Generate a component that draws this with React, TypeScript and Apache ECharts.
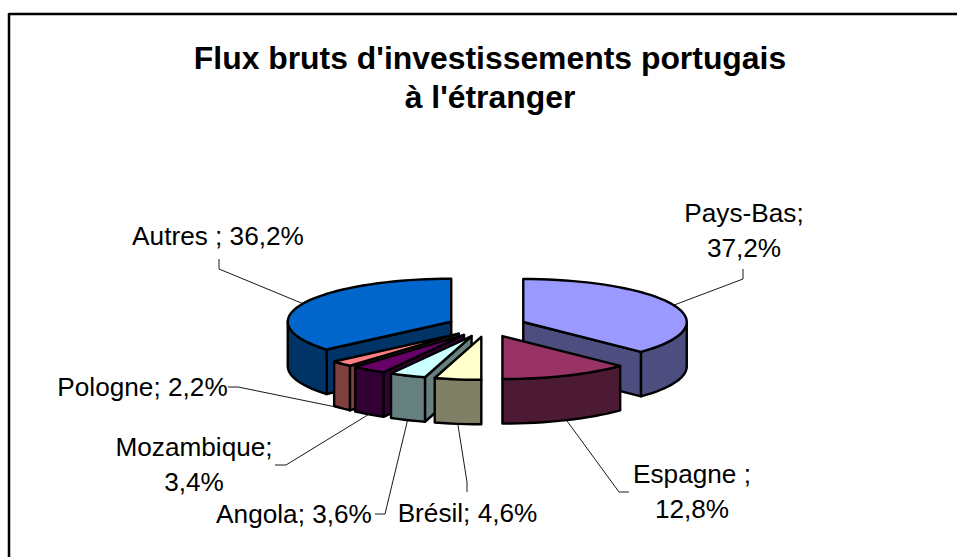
import React, { useEffect, useRef } from "react";
import * as echarts from "echarts";

const titleLines = ["Flux bruts d'investissements portugais", "à l'étranger"];
const categories = ["Pays-Bas", "Espagne", "Brésil", "Angola", "Mozambique", "Pologne", "Autres"];
const shares = [37.2, 12.8, 4.6, 3.6, 3.4, 2.2, 36.2];
const labelTexts = [
  ["Pays-Bas;", "37,2%"],
  ["Espagne ;", "12,8%"],
  ["Brésil; 4,6%"],
  ["Angola; 3,6%"],
  ["Mozambique;", "3,4%"],
  ["Pologne; 2,2%"],
  ["Autres ; 36,2%"],
];
const topColors = ["#9999FF", "#993366", "#FFFFCC", "#CCFFFF", "#660066", "#FF8080", "#0066CC"];
const sideColors = ["#4D4D80", "#4D1A33", "#808066", "#668080", "#330033", "#804040", "#003366"];

// Layout of the 3D pie
const CX = 487, CY = 326.2, RX = 163.5, RY = 43, DEPTH = 44.5;
const EXPLODE_X = 39.4, EXPLODE_Y = 10.7;
const drawOrder = [6, 0, 5, 4, 3, 2, 1];
const FONT = '"Liberation Sans", Arial, sans-serif';

// Label centre + first-line y, and leader route (end, elbow); anchor comes from the slice
const labelPos = [
  [744, 213], [692, 474], [467.5, 513], [294, 514], [194, 447], [142.5, 387], [218, 236],
];
const lineHeight = 35;
const leaderRoute = [
  [[743, 269], [743, 279]],
  [[629, 492], [619, 492]],
  [[467, 492], [467, 482]],
  [[375, 514], [385, 514]],
  [[275, 465], [286, 465]],
  [[228, 387], [238, 387]],
  [[219, 259], [219, 269]],
];
const anchorOnBottom = [false, true, true, true, true, true, false];

const total = shares.reduce((a, b) => a + b, 0);
const startAngles: number[] = [];
shares.reduce((acc, v, i) => {
  startAngles[i] = (acc / total) * 360;
  return acc + v;
}, 0);

const rad = (d: number) => (d * Math.PI) / 180;

function renderItem(params: any) {
  const i = drawOrder[params.dataIndex];
  const a0 = startAngles[i];
  const a1 = a0 + (shares[i] / total) * 360;
  const mid = (a0 + a1) / 2;
  const cx = CX + EXPLODE_X * Math.sin(rad(mid));
  const cy = CY - EXPLODE_Y * Math.cos(rad(mid));
  const pt = (a: number, dz = 0) => [cx + RX * Math.sin(rad(a)), cy - RY * Math.cos(rad(a)) + dz];
  const arc = (from: number, to: number, dz = 0) => {
    const n = Math.max(2, Math.ceil((to - from) / 3));
    const out: number[][] = [];
    for (let k = 0; k <= n; k++) out.push(pt(from + ((to - from) * k) / n, dz));
    return out;
  };
  const edge = { stroke: "#000", lineWidth: 2.4, lineJoin: "round" };
  const children: any[] = [];

  // leader line
  const anchor = pt(mid, anchorOnBottom[i] ? DEPTH : 0);
  children.push({
    type: "polyline",
    shape: { points: [leaderRoute[i][0], leaderRoute[i][1], anchor] },
    style: { stroke: "#1a1a1a", lineWidth: 1, fill: "none" },
  });

  // walls
  const side = { ...edge, fill: sideColors[i] };
  if (a0 > 180) {
    children.push({
      type: "polygon",
      shape: { points: [[cx, cy], pt(a0), pt(a0, DEPTH), [cx, cy + DEPTH]] },
      style: side,
    });
  }
  if (a1 < 180) {
    children.push({
      type: "polygon",
      shape: { points: [[cx, cy], pt(a1), pt(a1, DEPTH), [cx, cy + DEPTH]] },
      style: side,
    });
  }
  const f0 = Math.max(a0, 90);
  const f1 = Math.min(a1, 270);
  if (f1 > f0) {
    children.push({
      type: "polygon",
      shape: { points: [...arc(f0, f1), ...arc(f0, f1, DEPTH).reverse()] },
      style: side,
    });
  }

  // top face
  children.push({
    type: "polygon",
    shape: { points: [[cx, cy], ...arc(a0, a1)] },
    style: { ...edge, fill: topColors[i] },
  });

  // label
  labelTexts[i].forEach((t, k) => {
    children.push({
      type: "text",
      x: labelPos[i][0],
      y: labelPos[i][1] + k * lineHeight,
      style: {
        text: t,
        font: `26.2px ${FONT}`,
        fill: "#000",
        align: "center",
        verticalAlign: "middle",
      },
    });
  });

  return { type: "group", children };
}

export default function App() {
  const ref = useRef<HTMLDivElement>(null);
  useEffect(() => {
    const chart = echarts.init(ref.current!, null, { renderer: "svg" });
    chart.setOption({
      animation: false,
      backgroundColor: "#fff",
      graphic: [
        { type: "line", shape: { x1: 9, y1: 14, x2: 957, y2: 14 }, style: { stroke: "#000", lineWidth: 2.5 } },
        { type: "line", shape: { x1: 9, y1: 13, x2: 9, y2: 557 }, style: { stroke: "#000", lineWidth: 2.5 } },
        ...titleLines.map((t, k) => ({
          type: "text",
          x: 490,
          y: 58 + k * 39,
          style: {
            text: t,
            font: `bold 31.9px ${FONT}`,
            fill: "#000",
            align: "center",
            verticalAlign: "middle",
          },
        })),
      ],
      series: [
        {
          type: "custom",
          coordinateSystem: "none",
          renderItem,
          silent: true,
          data: drawOrder.map((i) => ({ name: categories[i], value: shares[i] })),
        },
      ],
    });
    return () => chart.dispose();
  }, []);
  return <div ref={ref} style={{ position: "fixed", left: 0, top: 0, width: 957, height: 557 }} />;
}
